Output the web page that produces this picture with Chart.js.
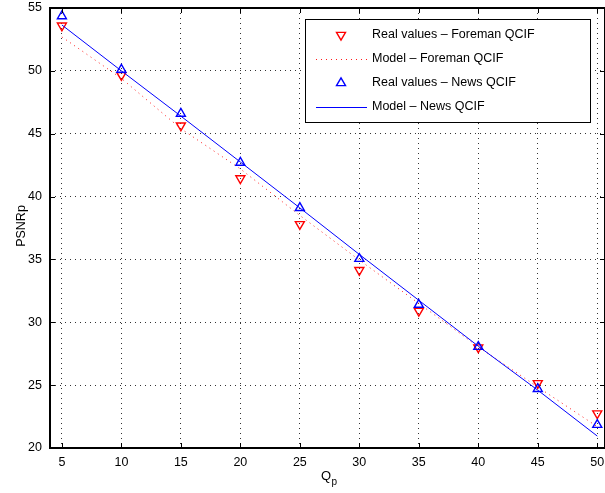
<!DOCTYPE html>
<html>
<head>
<meta charset="utf-8">
<script src="https://cdn.jsdelivr.net/npm/chart.js@4.4.1/dist/chart.umd.min.js"></script>
<style>
  html, body { margin: 0; padding: 0; background: #fff; }
  #wrap { width: 605px; height: 493px; }
</style>
</head>
<body>
<div id="wrap"><canvas id="psnrChart" width="605" height="493"></canvas></div>
<script>
// values
const qp = [5, 10, 15, 20, 25, 30, 35, 40, 45, 50];
const foremanReal  = [53.6, 49.65, 45.65, 41.45, 37.8, 34.15, 30.9, 28.0, 25.15, 22.75];
const foremanModel = [52.7, 49.4, 45.4, 42.2, 38.5, 34.95, 31.5, 28.05, 24.85, 21.7];
const newsReal     = [54.35, 50.1, 46.6, 42.7, 39.1, 35.05, 31.4, 28.05, 24.7, 21.85];
const newsModel    = [53.65, 50.0, 46.4, 42.75, 39.1, 35.4, 31.75, 28.1, 24.6, 20.95];
const xTicks = [5, 10, 15, 20, 25, 30, 35, 40, 45, 50];
const yTicks = [20, 25, 30, 35, 40, 45, 50, 55];
const seriesNames = [
  'Real values – Foreman QCIF',
  'Model – Foreman QCIF',
  'Real values – News QCIF',
  'Model – News QCIF'
];

const FONT = 'Liberation Sans, Arial, Helvetica, sans-serif';

function pts(ys) {
  return qp.map((x, i) => ({ x: x, y: ys[i] }));
}

// frame, inside ticks, axis titles and the boxed legend (matlab look)
const matlabLook = {
  id: 'matlabLook',
  afterDraw(chart) {
    const ctx = chart.ctx;
    const a = chart.chartArea;
    const xs = chart.scales.x, ys = chart.scales.y;
    ctx.save();

    // inside tick marks
    ctx.strokeStyle = '#000';
    ctx.lineWidth = 1;
    ctx.setLineDash([]);
    const tl = 5;
    xTicks.forEach(v => {
      const px = Math.round(xs.getPixelForValue(v)) + 0.5;
      ctx.beginPath();
      ctx.moveTo(px, a.bottom); ctx.lineTo(px, a.bottom - tl);
      ctx.moveTo(px, a.top); ctx.lineTo(px, a.top + tl);
      ctx.stroke();
    });
    yTicks.forEach(v => {
      const py = Math.round(ys.getPixelForValue(v)) + 0.5;
      ctx.beginPath();
      ctx.moveTo(a.left, py); ctx.lineTo(a.left + tl, py);
      ctx.moveTo(a.right, py); ctx.lineTo(a.right - tl, py);
      ctx.stroke();
    });

    // axes box
    ctx.lineWidth = 2;
    ctx.strokeRect(a.left, a.top, a.right - a.left, a.bottom - a.top);

    // axis titles
    ctx.fillStyle = '#000';
    ctx.textBaseline = 'alphabetic';
    ctx.font = '13px ' + FONT;
    ctx.textAlign = 'left';
    ctx.fillText('Q', 321, 480);
    ctx.font = '10px ' + FONT;
    ctx.fillText('p', 331.5, 485);

    ctx.save();
    ctx.translate(24.5, 226);
    ctx.rotate(-Math.PI / 2);
    ctx.font = '12.5px ' + FONT;
    ctx.textAlign = 'center';
    ctx.fillText('PSNRp', 0, 0);
    ctx.restore();

    // legend
    const bx = 305, by = 19, bw = 285, bh = 103;
    ctx.fillStyle = '#fff';
    ctx.fillRect(bx, by, bw, bh);
    ctx.lineWidth = 1;
    ctx.strokeStyle = '#000';
    ctx.strokeRect(bx + 0.5, by + 0.5, bw, bh);

    chart.data.datasets.forEach((ds, i) => {
      const cy = 35 + i * 24;
      ctx.save();
      if (ds.showLine) {
        ctx.strokeStyle = ds.borderColor;
        ctx.lineWidth = ds.borderWidth;
        ctx.setLineDash(ds.borderDash || []);
        ctx.beginPath();
        ctx.moveTo(316, cy + 0.5);
        ctx.lineTo(367, cy + 0.5);
        ctx.stroke();
      } else {
        ctx.strokeStyle = ds.pointBorderColor;
        ctx.fillStyle = 'rgba(0,0,0,0)';
        ctx.lineWidth = ds.pointBorderWidth;
        Chart.helpers.drawPoint(ctx, {
          pointStyle: 'triangle',
          rotation: ds.pointRotation,
          radius: ds.pointRadius,
          borderWidth: ds.pointBorderWidth
        }, 341, cy);
      }
      ctx.restore();
      ctx.fillStyle = '#000';
      ctx.font = '12.5px ' + FONT;
      ctx.textAlign = 'left';
      ctx.textBaseline = 'middle';
      ctx.fillText(seriesNames[i], 372, cy);
    });

    ctx.restore();
  }
};

const ctx = document.getElementById('psnrChart').getContext('2d');
new Chart(ctx, {
  type: 'scatter',
  data: {
    datasets: [
      {
        label: seriesNames[0],
        data: pts(foremanReal),
        showLine: false,
        pointStyle: 'triangle',
        pointRotation: 180,
        pointRadius: 5.2,
        pointBorderWidth: 1.4,
        pointBorderColor: '#ff0000',
        pointBackgroundColor: 'rgba(0,0,0,0)',
        order: 3
      },
      {
        label: seriesNames[1],
        data: pts(foremanModel),
        showLine: true,
        borderColor: '#ff1a1a',
        borderWidth: 1,
        borderDash: [1, 4],
        pointRadius: 0,
        tension: 0,
        order: 4
      },
      {
        label: seriesNames[2],
        data: pts(newsReal),
        showLine: false,
        pointStyle: 'triangle',
        pointRotation: 0,
        pointRadius: 5.2,
        pointBorderWidth: 1.4,
        pointBorderColor: '#0000ff',
        pointBackgroundColor: 'rgba(0,0,0,0)',
        order: 1
      },
      {
        label: seriesNames[3],
        data: pts(newsModel),
        showLine: true,
        borderColor: '#0000ff',
        borderWidth: 1,
        pointRadius: 0,
        tension: 0,
        order: 2
      }
    ]
  },
  options: {
    responsive: false,
    animation: false,
    layout: { autoPadding: false, padding: { top: 8, right: 0, left: 0, bottom: 0 } },
    plugins: {
      legend: { display: false },
      tooltip: { enabled: false }
    },
    scales: {
      x: {
        type: 'linear',
        min: 4,
        max: 50.65,
        afterBuildTicks: s => { s.ticks = xTicks.map(v => ({ value: v })); },
        afterFit: s => { s.height = 45; s.paddingLeft = 0; s.paddingRight = 0; },
        border: { display: false, dash: [1, 4] },
        grid: { color: '#333', lineWidth: 1, drawTicks: false },
        ticks: {
          color: '#000',
          padding: 7,
          maxRotation: 0,
          autoSkip: false,
          font: { family: FONT, size: 12.5 }
        }
      },
      y: {
        min: 20,
        max: 55,
        afterBuildTicks: s => { s.ticks = yTicks.map(v => ({ value: v })); },
        afterFit: s => { s.width = 50; s.paddingTop = 0; s.paddingBottom = 0; },
        border: { display: false, dash: [1, 4] },
        grid: { color: '#333', lineWidth: 1, drawTicks: false },
        ticks: {
          color: '#000',
          padding: 8,
          font: { family: FONT, size: 12.5 }
        }
      }
    }
  },
  plugins: [matlabLook]
});
</script>
</body>
</html>
